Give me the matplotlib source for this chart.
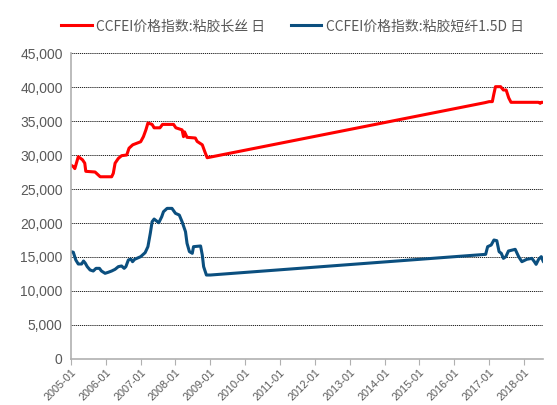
import pandas as pd
import matplotlib.pyplot as plt
import matplotlib.dates as mdates
from matplotlib.ticker import FuncFormatter, MultipleLocator

plt.rcParams['font.family'] = ['Liberation Sans', 'DejaVu Sans']

# ---- CCFEI viscose filament (red) ----
filament_dates = [
    "2005-01-01", "2005-01-25", "2005-02-10", "2005-03-18", "2005-05-01", "2005-05-25",
    "2005-06-05", "2005-09-10", "2005-11-03", "2006-03-03", "2006-03-20", "2006-04-08",
    "2006-05-12", "2006-06-15", "2006-08-08", "2006-09-01", "2006-10-10", "2007-01-01",
    "2007-01-30", "2007-02-25", "2007-03-18", "2007-05-01", "2007-05-22", "2007-07-22",
    "2007-08-18", "2007-12-12", "2008-01-05", "2008-03-10", "2008-03-25", "2008-04-05",
    "2008-05-01", "2008-07-27", "2008-08-15", "2008-10-08", "2008-11-03", "2008-11-28",
    "2016-11-18", "2017-01-01", "2017-02-03", "2017-02-18", "2017-03-08", "2017-05-01",
    "2017-05-30", "2017-06-28", "2017-07-25", "2017-08-18", "2018-06-01", "2018-06-20",
    "2018-07-01", "2018-08-05",
]
filament_vals = [
    28500, 28300, 28000, 29750, 29300, 28800,
    27600, 27500, 26800, 26800, 27300, 28800,
    29500, 29900, 30000, 31000, 31500, 31950,
    32700, 33700, 34700, 34500, 34000, 34000,
    34500, 34500, 34000, 33700, 32700, 33400,
    32600, 32500, 32000, 31500, 30500, 29600,
    37700, 37850, 37850, 38900, 40050, 40050,
    39560, 39560, 38400, 37750, 37750, 37600,
    37750, 37750,
]

# ---- CCFEI viscose staple 1.5D (blue) ----
staple_dates = [
    "2005-01-01", "2005-01-25", "2005-02-20", "2005-03-18", "2005-04-22", "2005-05-12",
    "2005-05-30", "2005-06-20", "2005-07-20", "2005-08-22", "2005-09-20", "2005-10-26",
    "2005-11-16", "2005-12-24", "2006-01-26", "2006-03-03", "2006-04-08", "2006-05-12",
    "2006-06-15", "2006-07-12", "2006-07-30", "2006-08-25", "2006-09-20", "2006-10-08",
    "2006-10-30", "2007-01-01", "2007-02-17", "2007-03-18", "2007-04-12", "2007-05-01",
    "2007-05-22", "2007-07-10", "2007-08-10", "2007-08-28", "2007-10-05", "2007-11-25",
    "2008-01-01", "2008-02-10", "2008-03-10", "2008-04-15", "2008-05-01", "2008-05-26",
    "2008-06-25", "2008-07-08", "2008-09-20", "2008-10-08", "2008-10-22", "2008-11-20",
    "2009-01-01", "2016-11-25", "2016-12-16", "2017-01-22", "2017-02-20", "2017-03-22",
    "2017-04-15", "2017-05-08", "2017-05-30", "2017-06-25", "2017-07-22", "2017-10-01",
    "2017-11-06", "2017-12-10", "2018-01-30", "2018-03-25", "2018-04-20", "2018-05-08",
    "2018-06-03", "2018-07-01", "2018-07-23", "2018-08-12",
]
staple_vals = [
    15780, 15700, 14560, 13970, 13970, 14410,
    14100, 13580, 13090, 12940, 13330, 13330,
    12940, 12600, 12750, 12940, 13190, 13580,
    13680, 13330, 13580, 14560, 14700, 14310,
    14660, 15050, 15640, 16520, 18480, 20190,
    20580, 20040, 20930, 21660, 22150, 22150,
    21420, 21170, 20190, 18720, 17010, 15790,
    15540, 16520, 16620, 15290, 13580, 12350,
    12350, 15390, 16520, 16760, 17500, 17400,
    15780, 15540, 14800, 15050, 15880, 16130,
    15050, 14310, 14660, 14800, 14310, 13920,
    14660, 15050, 14310, 14070,
]

filament = pd.Series(filament_vals, index=pd.to_datetime(filament_dates))
staple = pd.Series(staple_vals, index=pd.to_datetime(staple_dates))

fig = plt.figure(figsize=(5.57, 4.05), dpi=100)
ax = fig.add_axes([0.1275, 0.1136, 0.8475, 0.7555])

ax.plot(filament.index, filament.values, color="#ff0000", linewidth=2.2,
        label="CCFEI价格指数:粘胶长丝 日")
ax.plot(staple.index, staple.values, color="#0b4f7f", linewidth=2.2,
        label="CCFEI价格指数:粘胶短纤1.5D 日")

ax.set_ylim(0, 45000)
ax.yaxis.set_major_locator(MultipleLocator(5000))
ax.yaxis.set_major_formatter(FuncFormatter(lambda v, p: f"{v:,.0f}"))
ax.set_xlim(pd.Timestamp("2005-01-01"), pd.Timestamp("2018-07-20"))
ax.xaxis.set_major_locator(mdates.YearLocator())
ax.xaxis.set_major_formatter(mdates.DateFormatter("%Y-%m"))

ax.grid(axis="y", color="black", linestyle=(0, (1.5, 1)), linewidth=0.6)
ax.set_axisbelow(True)
for s in ["top", "right"]:
    ax.spines[s].set_visible(False)
for s in ["left", "bottom"]:
    ax.spines[s].set_color("#b0b0b0")
    ax.spines[s].set_linewidth(1.2)

ax.tick_params(axis="y", length=0, labelsize=10, labelcolor="#595959", pad=6)
ax.tick_params(axis="x", length=4, color="#b0b0b0", labelsize=7.8, pad=2,
               labelcolor="#595959", direction="out")
plt.setp(ax.get_xticklabels(), rotation=45, ha="right", rotation_mode="anchor")

leg = fig.legend(loc="center", bbox_to_anchor=(0.525, 0.935), ncol=2, frameon=False,
                 prop={"family": ["Noto Sans CJK SC", "DejaVu Sans"], "size": 10},
                 handlelength=2.2, columnspacing=1.85, handletextpad=0.3)
for t in leg.get_texts():
    t.set_color("#595959")

fig.savefig("out.png", dpi=100)
